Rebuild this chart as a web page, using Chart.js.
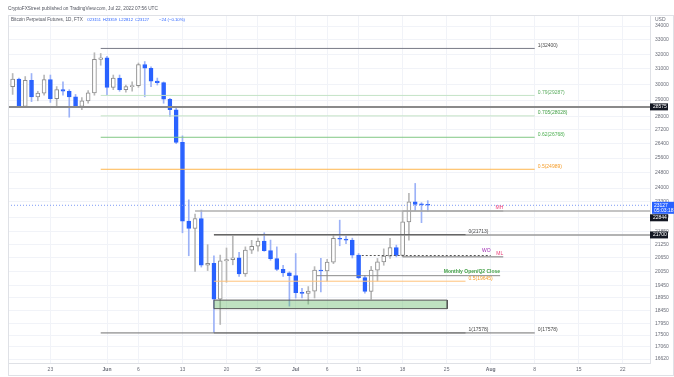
<!DOCTYPE html>
<html>
<head>
<meta charset="utf-8">
<script src="https://cdn.jsdelivr.net/npm/chart.js@4.4.1/dist/chart.umd.min.js"></script>
<style>
html, body { margin: 0; padding: 0; background: #fff; }
#wrap { width: 674px; height: 377px; }
</style>
</head>
<body>
<div id="wrap"><canvas id="btc"></canvas></div>
<script>
var BLUE = "#2962FF";
var BLUE_WICK = "#9cb2f7";
var UP_BORDER = "#8c8c8c";
var UP_WICK = "#b8b8b8";
var GRID = "#f1f3f8";
var AXIS_TEXT = "#6a6d78";
var FONT = "'Liberation Sans', Arial, sans-serif";

// daily candles, FTX BTC-PERP
var DATES = [
  "05-17","05-18","05-19","05-20","05-21","05-22","05-23","05-24","05-25","05-26","05-27","05-28","05-29","05-30","05-31",
  "06-01","06-02","06-03","06-04","06-05","06-06","06-07","06-08","06-09","06-10","06-11","06-12","06-13","06-14","06-15",
  "06-16","06-17","06-18","06-19","06-20","06-21","06-22","06-23","06-24","06-25","06-26","06-27","06-28","06-29","06-30",
  "07-01","07-02","07-03","07-04","07-05","07-06","07-07","07-08","07-09","07-10","07-11","07-12","07-13","07-14","07-15",
  "07-16","07-17","07-18","07-19","07-20","07-21","07-22"
];
var OPEN = [
  29850,30330,28600,30250,29200,29430,30300,29080,29650,29550,29200,28600,28950,29450,31650,
  31750,29800,30400,29650,29850,29900,31300,31050,30200,30100,29050,28400,26480,22350,22000,
  22480,20330,20420,18900,20520,20580,20660,19950,21000,21180,21420,20980,20620,20150,20000,
  19880,19170,19140,19230,20120,20080,20470,21540,21500,21460,20780,19800,19220,20120,20480,
  20730,21120,20760,22320,23300,23170,23151
];
var HIGH = [
  30700,30400,30500,30700,29550,30600,30600,29850,30150,29650,29350,29150,29600,32100,32050,
  31850,30600,30600,29950,30150,31400,31500,31150,30400,30150,29100,28550,26850,23400,22700,
  22890,21250,20750,20780,21100,21650,20900,21150,21450,21550,21800,21460,21150,20330,20050,
  20850,19350,19420,20270,20630,20590,21730,22400,21650,21550,20850,19900,20280,20630,21060,
  21540,21230,22844,23730,24240,23260,23359
];
var LOW = [
  29350,28550,28550,28900,28950,29300,28850,28650,29300,27950,28550,28400,28800,29300,31250,
  29300,29650,29550,29500,29550,29800,29200,29850,29950,28800,28000,26400,21800,20750,20060,
  20250,20100,17600,17900,19600,20350,19850,19850,20850,20950,20950,20550,20100,19850,18620,
  18950,18950,18700,18950,19200,19650,20400,21200,21300,20650,19750,19150,18900,19650,20330,
  20630,20700,20700,21460,22860,22280,22812
];
var CLOSE = [
  30330,28600,30250,29200,29430,30300,29080,29650,29550,29200,28600,28950,29450,31650,31750,
  29800,30400,29650,29850,29900,31300,31050,30200,30100,29050,28400,26480,22350,22000,22480,
  20330,20420,18900,20520,20580,20660,19950,21000,21180,21420,20980,20620,20150,20000,19880,
  19170,19140,19230,20120,20080,20470,21540,21500,21460,20780,19800,19220,20120,20480,20730,
  21120,20760,22320,23300,23170,23151,23127
];

var X_TICK_DATES = ["05-23","06-01","06-06","06-13","06-20","06-25","07-01","07-06","07-11","07-18","07-25","08-01","08-08","08-15","08-22"];
var X_TICK_LABELS = ["23","Jun","6","13","20","25","Jul","6","11","18","25","Aug","8","15","22"];
var Y_TICKS = [34000,33000,32000,31000,30000,29000,28000,27200,26400,25600,24800,24000,23300,22550,
  21850,21250,20650,20050,19450,18950,18450,17950,17500,17060,16620];

// drawings
var FIB1_VALUES = [32400, 29287, 28028, 26768, 24989, 17578];
var FIB1_LABELS = ["1(32400)", "0.79(29287)", "0.705(28028)", "0.62(26768)", "0.5(24989)", "0(17578)"];
var FIB2_VALUES = [21713, 19645, 17578];
var FIB2_LABELS = ["0(21713)", "0.5(19645)", "1(17578)"];
var LEVEL_BIG = 28575;
var LEVEL_22844 = 22844;
var LEVEL_21700 = 21700;
var LAST_PRICE = 23127;
var MONTHLY_OPEN = 19880;
var WEEKLY_OPEN = 20760;
var MONDAY_HIGH = 22844;
var MONDAY_LOW = 20700;
var ZONE = [18520, 18862];
var HEADER_OHLC = ["O23151", "H23359", "L22812", "C23127", "\u221224 (\u22120.10%)"];

function day(md) {
  var p = md.split("-");
  return (Date.UTC(2022, +p[0] - 1, +p[1]) - Date.UTC(2022, 5, 1)) / 864e5;
}

var X_MIN = -15.74, X_MAX = 86.33;

function hline(v, from, to, color, width, dash) {
  return {
    type: "line",
    data: [{ x: from, y: v }, { x: to, y: v }],
    borderColor: color, borderWidth: width, borderDash: dash || [],
    pointRadius: 0, fill: false, order: 0
  };
}

var up = DATES.map(function (d, i) { return CLOSE[i] >= OPEN[i]; });

var datasets = [];
datasets.push({
  type: "bar",
  data: DATES.map(function (d, i) { return { x: day(d), y: [LOW[i], HIGH[i]] }; }),
  backgroundColor: up.map(function (u) { return u ? UP_WICK : BLUE_WICK; }),
  barThickness: 1, grouped: false, order: 3
});
datasets.push({
  type: "bar",
  data: DATES.map(function (d, i) { return { x: day(d), y: [OPEN[i], CLOSE[i]] }; }),
  backgroundColor: up.map(function (u) { return u ? "#ffffff" : BLUE; }),
  borderColor: up.map(function (u) { return u ? UP_BORDER : BLUE; }),
  borderWidth: 1, borderSkipped: false, minBarLength: 1,
  barThickness: 4, grouped: false, order: 2
});

// fib 1: May 31 -> Aug 8
var F1_FROM = day("05-31"), F1_TO = day("08-08");
var FIB1_COLORS = ["#787b86", "#c4e3c6", "#c4e3c6", "#81c784", "#ffb74d", "#6f6f6f"];
FIB1_VALUES.forEach(function (v, i) { datasets.push(hline(v, F1_FROM, F1_TO, FIB1_COLORS[i], 1)); });
// fib 2: Jun 18 -> Jul 28
var F2_FROM = day("06-18"), F2_TO = day("07-28");
var FIB2_COLORS = ["#5a5a5a", "#ffc27a", "#6f6f6f"];
FIB2_VALUES.forEach(function (v, i) { datasets.push(hline(v, F2_FROM, F2_TO, FIB2_COLORS[i], 1)); });

datasets.push(hline(LEVEL_BIG, X_MIN, X_MAX, "#8a8a8a", 2));
datasets.push(hline(LEVEL_22844, day("06-15"), X_MAX, "#b0b0b0", 1.5));
datasets.push(hline(LEVEL_21700, day("06-18"), X_MAX, "#9a9a9a", 1.5));
datasets.push(hline(LAST_PRICE, X_MIN, X_MAX, "#7d9bf5", 1, [1, 2]));
datasets.push(hline(MONTHLY_OPEN, 33.3, 62.5, "#8a8a8a", 1));
datasets.push(hline(WEEKLY_OPEN, 40.5, 61, "#555555", 1, [2, 2]));
datasets.push(hline(MONDAY_HIGH, day("07-18"), 63, "#666666", 1));
datasets.push(hline(MONDAY_LOW, day("07-18"), 63, "#777777", 1));

// green zone
var Z_FROM = day("06-18"), Z_TO = 54.1;
datasets.push({ type: "line", data: [{ x: Z_FROM, y: ZONE[1] }, { x: Z_TO, y: ZONE[1] }],
  borderWidth: 0, pointRadius: 0, fill: false, order: 1 });
datasets.push({ type: "line", data: [{ x: Z_FROM, y: ZONE[0] }, { x: Z_TO, y: ZONE[0] }],
  borderWidth: 0, pointRadius: 0, fill: "-1", backgroundColor: "rgba(102,187,106,0.42)", order: 1 });
datasets.push({ type: "line",
  data: [{ x: Z_FROM, y: ZONE[1] }, { x: Z_TO, y: ZONE[1] }, { x: Z_TO, y: ZONE[0] }, { x: Z_FROM, y: ZONE[0] }, { x: Z_FROM, y: ZONE[1] }],
  borderColor: "#555555", borderWidth: 1, pointRadius: 0, fill: false, order: 0 });

var overlay = {
  id: "overlay",
  afterDatasetsDraw: function (chart) {
    var ctx = chart.ctx, sx = chart.scales.x, sy = chart.scales.y;
    ctx.save();
    ctx.textBaseline = "middle";
    ctx.font = "5px " + FONT;
    var LBL1 = ["#4a4a4a", "#5cae60", "#43a047", "#4caf50", "#f59d2a", "#4a4a4a"];
    FIB1_VALUES.forEach(function (v, i) {
      ctx.fillStyle = LBL1[i];
      ctx.fillText(FIB1_LABELS[i], sx.getPixelForValue(F1_TO) + 3, sy.getPixelForValue(v) - 3);
    });
    var LBL2 = ["#4a4a4a", "#f59d2a", "#4a4a4a"];
    FIB2_VALUES.forEach(function (v, i) {
      ctx.fillStyle = LBL2[i];
      ctx.fillText(FIB2_LABELS[i], sx.getPixelForValue(F2_TO) + 3, sy.getPixelForValue(v) - 3);
    });
    ctx.textAlign = "right";
    ctx.font = "bold 5px " + FONT;
    ctx.fillStyle = "#43a047";
    ctx.fillText("Monthly Open/Q2 Close", sx.getPixelForValue(62.5), sy.getPixelForValue(MONTHLY_OPEN) - 4.5);
    ctx.font = "5px " + FONT;
    ctx.fillStyle = "#9c27b0";
    ctx.fillText("WO", sx.getPixelForValue(61), sy.getPixelForValue(WEEKLY_OPEN) - 4.5);
    ctx.fillStyle = "#ec407a";
    ctx.fillText("MH", sx.getPixelForValue(63), sy.getPixelForValue(MONDAY_HIGH) - 3);
    ctx.fillText("ML", sx.getPixelForValue(63), sy.getPixelForValue(MONDAY_LOW) - 3);
    ctx.restore();
  },
  afterDraw: function (chart) {
    var ctx = chart.ctx, sy = chart.scales.y, a = chart.chartArea;
    ctx.save();
    // frame
    ctx.strokeStyle = "#dfe1e6";
    ctx.lineWidth = 1;
    ctx.strokeRect(8.5, 15.5, 665, 360);
    // header
    ctx.textBaseline = "middle";
    function fit(text, x, y, w, color) {
      ctx.font = "10px " + FONT;
      var m = ctx.measureText(text).width;
      ctx.font = (10 * w / m).toFixed(2) + "px " + FONT;
      ctx.fillStyle = color;
      ctx.fillText(text, x, y);
    }
    fit("CryptoFXStreet published on TradingView.com, Jul 22, 2022 07:56 UTC", 8, 9, 150, "#50535e");
    fit("Bitcoin Perpetual Futures, 1D, FTX", 11, 20, 72, "#50535e");
    var hx = [87, 103, 119, 135, 159], hw = [14, 14, 14, 14, 26];
    HEADER_OHLC.forEach(function (t, i) { fit(t, hx[i], 20, hw[i], BLUE); });
    ctx.font = "5px " + FONT;
    ctx.fillStyle = AXIS_TEXT;
    ctx.fillText("USD", 655, 20);
    // price tags
    function tag(yc, bg, text, w) {
      ctx.fillStyle = bg;
      ctx.fillRect(a.right, yc - 3.5, w, 7);
      ctx.fillStyle = "#ffffff";
      ctx.font = "5px " + FONT;
      ctx.fillText(text, a.right + 3, yc);
    }
    tag(sy.getPixelForValue(LEVEL_BIG), "#131722", String(LEVEL_BIG), 18);
    var yl = sy.getPixelForValue(LAST_PRICE);
    ctx.fillStyle = BLUE;
    ctx.fillRect(a.right + 2, yl - 3.5, 22, 12);
    ctx.fillStyle = "#ffffff";
    ctx.fillText(String(LAST_PRICE), a.right + 4, yl);
    ctx.fillText("05:03:18", a.right + 4, yl + 5);
    tag(Math.max(sy.getPixelForValue(LEVEL_22844), yl + 12.5), "#131722", String(LEVEL_22844), 18);
    tag(sy.getPixelForValue(LEVEL_21700), "#131722", String(LEVEL_21700), 18);
    ctx.restore();
  }
};

new Chart(document.getElementById("btc"), {
  type: "bar",
  data: { datasets: datasets },
  options: {
    responsive: true,
    maintainAspectRatio: false,
    animation: false,
    layout: { padding: { left: 8, top: 15, right: 0, bottom: 0 } },
    plugins: { legend: { display: false }, tooltip: { enabled: false } },
    scales: {
      x: {
        type: "linear", min: X_MIN, max: X_MAX, offset: false,
        afterBuildTicks: function (s) { s.ticks = X_TICK_DATES.map(function (d) { return { value: day(d) }; }); },
        afterFit: function (s) { s.height = 14; },
        ticks: {
          autoSkip: false, maxRotation: 0, padding: 4, color: AXIS_TEXT,
          callback: function (v, i) { return X_TICK_LABELS[i]; },
          font: function (c) {
            var l = X_TICK_LABELS[c.index] || "";
            return { size: 5, family: FONT, weight: /[A-Z]/.test(l) ? "bold" : "normal" };
          }
        },
        grid: { color: GRID, drawTicks: false, offset: false },
        border: { display: true, color: "#dfe1e6" }
      },
      y: {
        type: "logarithmic", position: "right", min: 16478, max: 34814,
        afterBuildTicks: function (s) { s.ticks = Y_TICKS.map(function (v) { return { value: v }; }); },
        afterFit: function (s) { s.width = 24; },
        ticks: {
          autoSkip: false, padding: 5, color: AXIS_TEXT,
          font: { size: 5, family: FONT },
          callback: function (v) { return String(v); }
        },
        grid: { color: GRID, drawTicks: false },
        border: { display: true, color: "#dfe1e6" }
      }
    }
  },
  plugins: [overlay]
});
</script>
</body>
</html>
